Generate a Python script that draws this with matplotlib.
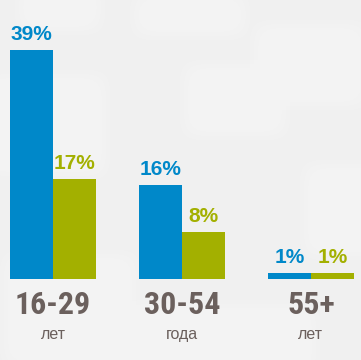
import matplotlib
matplotlib.use("Agg")
import matplotlib.pyplot as plt
from matplotlib.patches import FancyBboxPatch
import numpy as np

categories = ["16-29", "30-54", "55+"]
sublabels = ["лет", "года", "лет"]
series_blue = [39, 16, 1]
series_green = [17, 8, 1]
labels_blue = ["39%", "16%", "1%"]
labels_green = ["17%", "8%", "1%"]

BLUE = "#0088c9"
GREEN = "#a3b000"
GRAY = "#6b605d"
BG = "#f0f0f0"

fig = plt.figure(figsize=(3.61, 3.60), dpi=100)
fig.patch.set_facecolor(BG)

# faint keyboard-like background patches (decorative)
bgax = fig.add_axes([0, 0, 1, 1], zorder=-1)
bgax.set_xlim(0, 361); bgax.set_ylim(360, 0); bgax.axis("off")
for (x0, y0, w, h) in [(15, -20, 90, 55), (130, -10, 120, 50), (250, 20, 120, 90),
                       (-20, 70, 130, 110), (180, 60, 110, 80), (0, 250, 140, 120),
                       (300, 160, 90, 100), (120, 300, 200, 80)]:
    for k in range(5):
        bgax.add_patch(FancyBboxPatch((x0 + 4 * k, y0 + 4 * k), w - 8 * k, h - 8 * k,
                                      boxstyle="round,pad=0,rounding_size=20",
                                      fc="#fbfbfb", ec="none", alpha=0.12))

ax = fig.add_axes([0, 0, 1, 1])
ax.patch.set_alpha(0)

x = np.arange(len(categories))
w = 0.333
ax.bar(x - w / 2, series_blue, width=w, color=BLUE, zorder=2)
ax.bar(x + w / 2, series_green, width=w, color=GREEN, zorder=2)

ax.set_xlim(-0.411, 2.388)
ax.set_ylim(-13.8, 47.5)
ax.axis("off")

for i in range(len(categories)):
    ax.text(x[i] - w / 2, series_blue[i] + 1.0, labels_blue[i], ha="center", va="bottom",
            color=BLUE, fontsize=15, fontweight="bold", family="Liberation Sans")
    ax.text(x[i] + w / 2, series_green[i] + 1.0, labels_green[i], ha="center", va="bottom",
            color=GREEN, fontsize=15, fontweight="bold", family="Liberation Sans")
    ax.text(x[i], -4.4, categories[i], ha="center", va="center", color=GRAY,
            fontsize=23, fontweight="bold", family=["Roboto Condensed", "Anton", "DejaVu Sans"])
    ax.text(x[i], -9.4, sublabels[i], ha="center", va="center", color=GRAY,
            fontsize=11.5, family="Liberation Sans")

fig.savefig("out.png", dpi=100, facecolor=fig.get_facecolor())
